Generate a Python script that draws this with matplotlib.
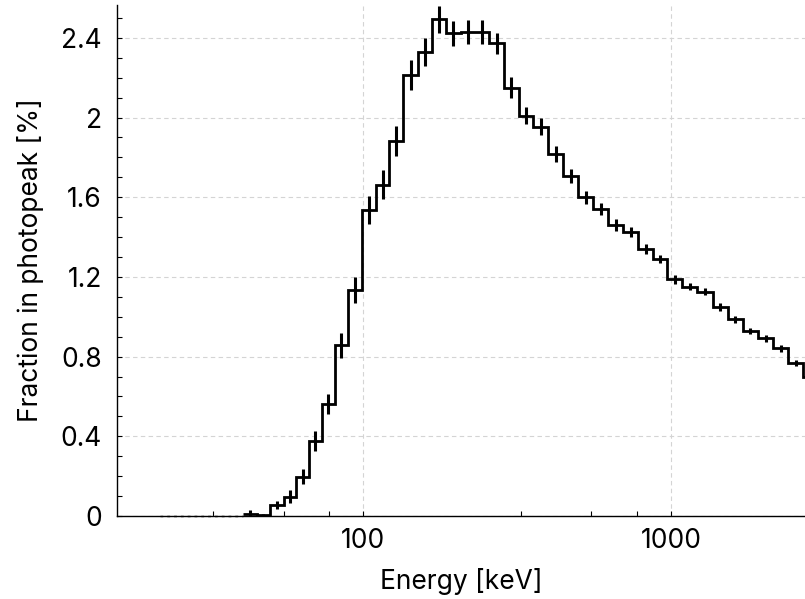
import numpy as np
import matplotlib
matplotlib.use("Agg")
import matplotlib.pyplot as plt
from matplotlib.ticker import FixedLocator, MultipleLocator, FuncFormatter

plt.rcParams['font.family'] = ['Inter', 'DejaVu Sans']

# bin edges [keV] (log-ish binning)
edges = [21.8, 25.0, 27.5, 30.4, 33.4, 36.9, 40.6, 45.0, 49.7, 55.0, 60.4, 66.6,
         73.2, 80.6, 89.4, 98.8, 109.7, 121.5, 134.9, 150.2, 166.9, 185.7, 207.3,
         230.7, 256.8, 286.6, 320.6, 356.8, 399.3, 446.7, 499.6, 559.1, 625.5,
         699.8, 783.0, 875.9, 974.1, 1088, 1218, 1366, 1529, 1710, 1922, 2150,
         2406, 2692, 3005]

# fraction in photopeak [%]
frac = [0, 0, 0, 0, 0, 0,
        0.012, 0.005, 0.055, 0.097, 0.197, 0.376, 0.561, 0.858, 1.135, 1.536,
        1.662, 1.884, 2.214, 2.331, 2.493, 2.423, 2.428, 2.428, 2.373, 2.150,
        2.010, 1.954, 1.817, 1.708, 1.600, 1.540, 1.461, 1.424, 1.342, 1.292,
        1.188, 1.151, 1.126, 1.051, 0.987, 0.929, 0.892, 0.842, 0.770, 0.700]

err = [0, 0, 0, 0, 0, 0,
       0.02, 0.005, 0.019, 0.033, 0.038, 0.05, 0.05, 0.063, 0.065, 0.068,
       0.073, 0.075, 0.074, 0.07, 0.067, 0.063, 0.06, 0.06, 0.054, 0.054,
       0.042, 0.042, 0.038, 0.034, 0.032, 0.03, 0.029, 0.025, 0.025, 0.02,
       0.021, 0.019, 0.017, 0.02, 0.019, 0.017, 0.017, 0.018, 0.015, 0.015]

edges = np.array(edges)
frac = np.array(frac)
err = np.array(err)
centers = np.sqrt(edges[:-1] * edges[1:])
nz = frac > 0
first = np.argmax(nz)

fig = plt.figure(figsize=(8.05, 5.99), dpi=100)
ax = fig.add_axes([0.1453, 0.1386, 0.8547, 0.853])

ax.set_axisbelow(True)
ax.grid(which='major', ls=(0, (4, 3)), color='#d4d4d4', lw=0.8)

# empty bins: dotted
ax.stairs(frac[:first], edges[:first + 1], color='black', lw=1.0,
          ls=(0, (2, 2.9)), baseline=None, zorder=3, clip_on=False)
# histogram
ax.stairs(frac[first:], edges[first:], color='black', lw=2.0, baseline=None, zorder=4)
ax.errorbar(centers[nz], frac[nz], yerr=err[nz], fmt='none', ecolor='black',
            elinewidth=2.2, capsize=0, zorder=4)

ax.set_xscale('log')
ax.set_xlim(15.8, 2730)
ax.set_ylim(0, 2.565)

ax.xaxis.set_major_locator(FixedLocator([10, 100, 1000]))
ax.xaxis.set_minor_locator(FixedLocator([32.5, 55, 77.5, 325, 550, 775]))
ax.xaxis.set_major_formatter(FuncFormatter(lambda v, p: '%d' % v))
ax.xaxis.set_minor_formatter(FuncFormatter(lambda v, p: ''))
ax.yaxis.set_major_locator(MultipleLocator(0.4))
ax.yaxis.set_minor_locator(MultipleLocator(0.1))
ax.yaxis.set_major_formatter(FuncFormatter(lambda v, p: '%g' % round(v, 2)))

ax.tick_params(which='both', direction='in', length=3.6, width=0.8, labelsize=19)
ax.tick_params(axis='y', pad=11)
ax.tick_params(axis='x', pad=9)

for s in ['top', 'right']:
    ax.spines[s].set_visible(False)
for s in ['left', 'bottom']:
    ax.spines[s].set_linewidth(1.0)

ax.set_xlabel('Energy [keV]', fontsize=19, labelpad=10)
ax.set_ylabel('Fraction in photopeak [%]', fontsize=19, labelpad=12)

fig.savefig('out.png', dpi=100)
